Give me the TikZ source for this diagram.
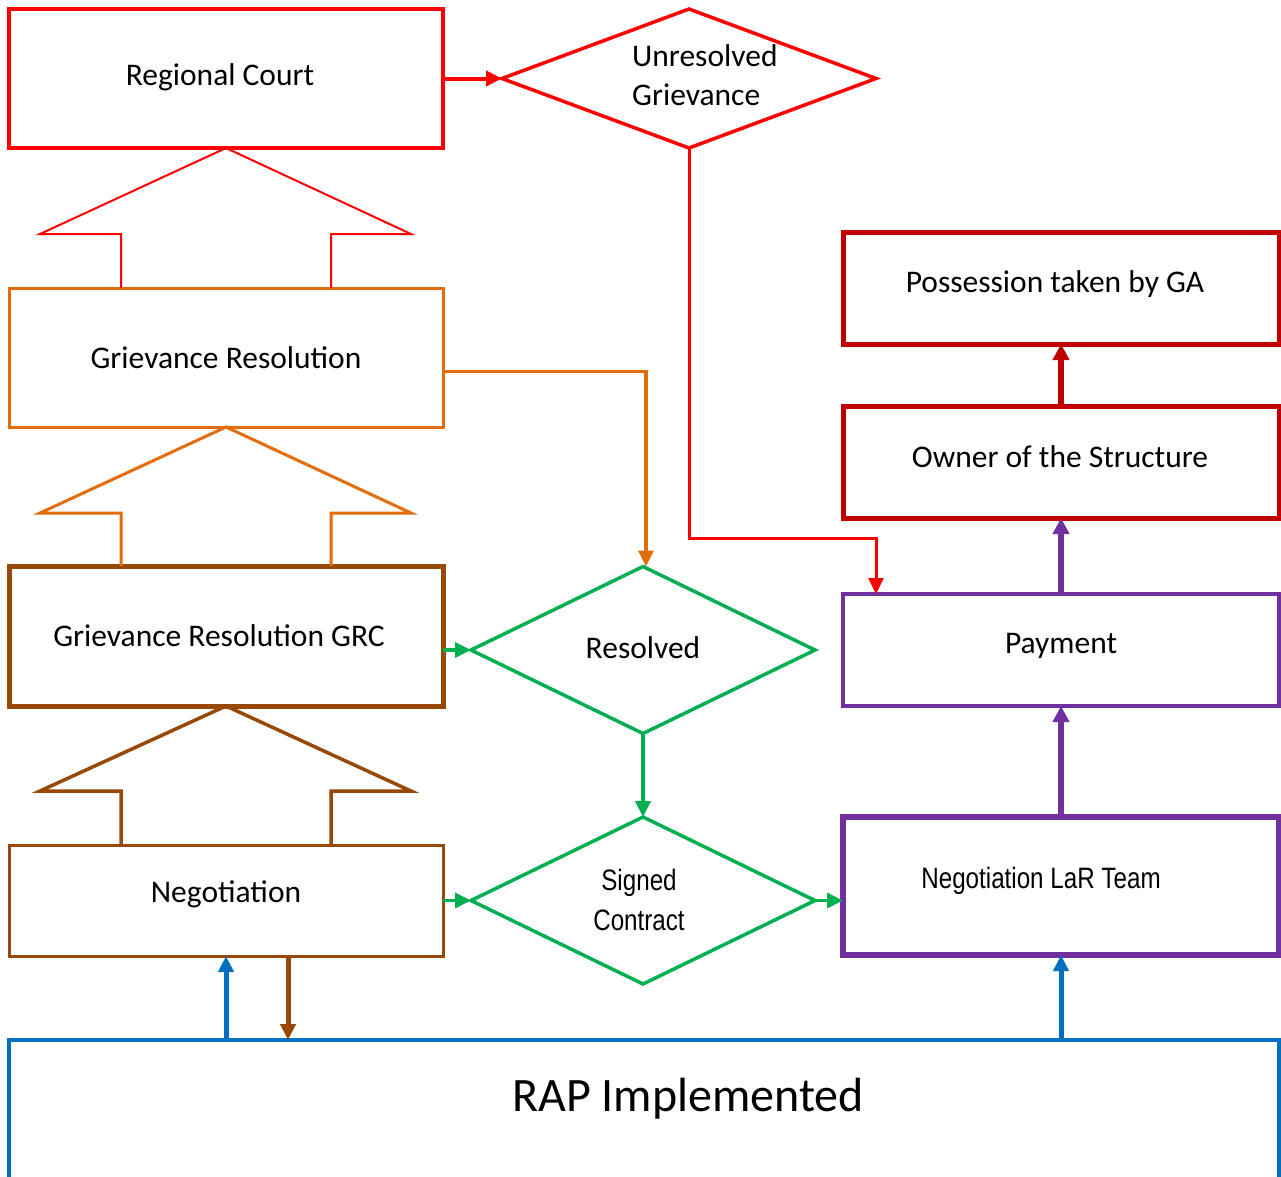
\documentclass[tikz,border=0pt]{standalone}
\usepackage{fontspec}
\setmainfont{Carlito}
\newfontfamily\narrowfont[FakeStretch=0.82]{Liberation Sans}
\usetikzlibrary{shapes.geometric,arrows.meta,calc}
\definecolor{cred}{HTML}{FF0000}
\definecolor{corange}{HTML}{E46C0A}
\definecolor{cbrown}{HTML}{984807}
\definecolor{cgreen}{HTML}{00B050}
\definecolor{cdred}{HTML}{C00000}
\definecolor{cpurple}{HTML}{7030A0}
\definecolor{cblue}{HTML}{0070C0}
\tikzset{
  box/.style={draw, rectangle, inner sep=0pt, outer sep=0pt, minimum width=434pt},
  dia/.style={draw, diamond, inner sep=0pt, outer sep=0pt, minimum width=344pt, minimum height=167pt, line width=3.5pt, cgreen},
  lbl/.style={inner sep=0pt, align=center, font=\fontsize{31.5}{39}\selectfont},
  nlbl/.style={inner sep=0pt, align=center, font=\narrowfont\fontsize{29.5}{40}\selectfont},
  con/.style={line width=3pt, -{Triangle[width=15pt,length=16pt]}},
  thick/.style={line width=6pt, -{Triangle[width=16pt,length=16pt]}},
  blockarrow/.style={line join=miter}
}
\begin{document}
\begin{tikzpicture}[x=1pt,y=-1pt]
\useasboundingbox (0,0) rectangle (1281,1176);
\clip (0,0) rectangle (1281,1176);
% left column boxes
\node[box, cred, line width=3.5pt, minimum height=139pt] (rc) at (226,78.5) {};
\node[lbl] at (220,77) {Regional Court};
\node[box, corange, line width=3pt, minimum height=139pt] (gr) at (226,357.5) {};
\node[lbl] at (226,358) {Grievance Resolution};
\node[box, cbrown, line width=5pt, minimum height=140pt] (grc) at (226,636) {};
\node[lbl] at (219,636) {Grievance Resolution GRC};
\node[box, cbrown, line width=3pt, minimum height=111pt] (neg) at (226,900.5) {};
\node[lbl] at (226,894) {Negotiation};
% right column boxes
\node[box, cdred, line width=5pt, minimum width=436pt, minimum height=112pt] (pga) at (1061,288) {};
\node[lbl] at (1055,284) {Possession taken by GA};
\node[box, cdred, line width=5pt, minimum width=436pt, minimum height=112pt] (own) at (1061,462) {};
\node[lbl] at (1060,457) {Owner of the Structure};
\node[box, cpurple, line width=4pt, minimum width=436pt, minimum height=112pt] (pay) at (1061,650) {};
\node[lbl] at (1061,646) {Payment};
\node[box, cpurple, line width=6pt, minimum width=436pt, minimum height=138pt] (lar) at (1061,886) {};
\node[nlbl] at (1041,881) {Negotiation LaR Team};
% RAP
\node[box, cblue, line width=4pt, minimum width=1270pt, minimum height=200pt, anchor=north] (rap) at (644,1040) {};
\node[lbl, font=\fontsize{48}{54}\selectfont] at (688,1099) {RAP Implemented};
% diamonds
\node[dia, cred, minimum width=374pt, minimum height=139pt] (ug) at (689,78.5) {};
\node[lbl, align=left, anchor=west] at (632,75) {Unresolved\\Grievance};
\node[dia] (res) at (643,650) {};
\node[lbl] at (643,648) {Resolved};
\node[dia] (sc) at (643,900.5) {};
\node[nlbl] at (639,900) {Signed\\Contract};
% block arrows
\draw[cred, line width=2pt, blockarrow] (121,288) -- (121,234) -- (40,234) -- (rc.south) -- (411,234) -- (331,234) -- (331,288);
\draw[corange, line width=3pt, blockarrow] (121,566) -- (121,513) -- (40,513) -- (gr.south) -- (411,513) -- (331,513) -- (331,566);
\draw[cbrown, line width=3.5pt, blockarrow] (121,845) -- (121,791) -- (40,791) -- (grc.south) -- (411,791) -- (331,791) -- (331,845);
% connectors
\draw[con, cred, line width=4pt] (rc.east) -- (ug.west);
\coordinate (rbend) at (876,538);
\draw[con, cred] (ug.south) -- (ug.south |- rbend) -- (rbend) -- (rbend |- pay.north);
\draw[con, corange, line width=3.5pt] ([yshift=-14pt]gr.east) -| ([xshift=3pt]res.north);
\draw[con, cgreen, line width=3.5pt] (grc.east |- res.west) -- (res.west);
\draw[con, cgreen, line width=4pt] (res.south) -- (sc.north);
\draw[con, cgreen, line width=3.5pt] (neg.east) -- (sc.west);
\draw[con, cgreen, line width=3.5pt] (sc.east) -- (sc.east -| lar.west);
\draw[thick, cdred] (own.north) -- (pga.south);
\draw[thick, cpurple] (pay.north) -- (own.south);
\draw[thick, cpurple] (lar.north) -- (pay.south);
\draw[con, cblue, line width=5pt] (rap.north -| neg.south) -- (neg.south);
\draw[con, cblue, line width=5pt] (rap.north -| lar.south) -- (lar.south);
\draw[con, cbrown, line width=5pt] ([xshift=62pt]neg.south) -- ([xshift=62pt]neg.south |- rap.north);
\end{tikzpicture}
\end{document}
